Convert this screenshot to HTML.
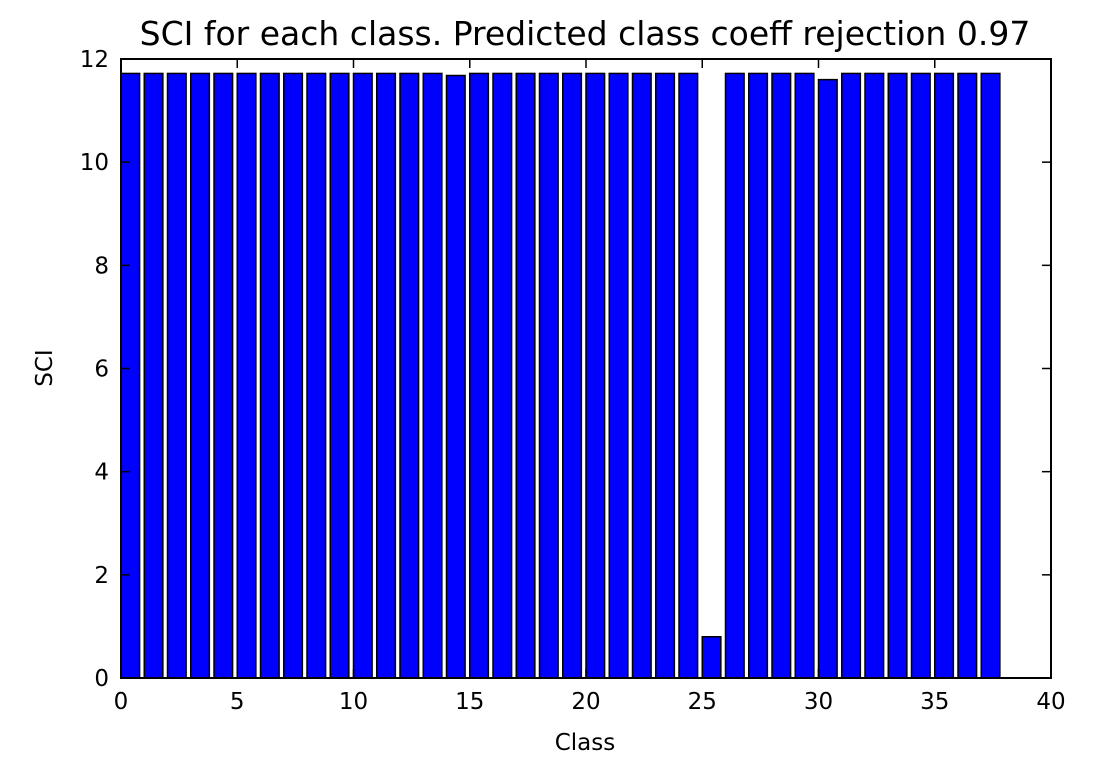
<!DOCTYPE html>
<html><head><meta charset="utf-8"><style>
body{margin:0;background:#fff;}
svg{display:block;font-family:"DejaVu Sans","Liberation Sans",sans-serif;}
</style></head><body>
<svg id="chart" width="1108" height="778" xmlns="http://www.w3.org/2000/svg">
<rect width="1108" height="778" fill="#fff"/>
<g id="bars"></g>
<g id="axes"></g>
<text x="585" y="45" text-anchor="middle" font-size="33" fill="#000">SCI for each class. Predicted class coeff rejection 0.97</text>
<text x="585" y="750" text-anchor="middle" font-size="23" fill="#000">Class</text>
<text x="52" y="368" text-anchor="middle" font-size="23" fill="#000" transform="rotate(-90 52 368)">SCI</text>
</svg>
<script>
const categories = [0,1,2,3,4,5,6,7,8,9,10,11,12,13,14,15,16,17,18,19,20,21,22,23,24,25,26,27,28,29,30,31,32,33,34,35,36,37];
const values = [11.72,11.72,11.72,11.72,11.72,11.72,11.72,11.72,11.72,11.72,11.72,11.72,11.72,11.72,11.68,11.72,11.72,11.72,11.72,11.72,11.72,11.72,11.72,11.72,11.72,0.8,11.72,11.72,11.72,11.72,11.6,11.72,11.72,11.72,11.72,11.72,11.72,11.72];
const xTicks = [0,5,10,15,20,25,30,35,40];
const yTicks = [0,2,4,6,8,10,12];
const L=121,R=1051,T=59,B=678;
const xs=v=>L+(v/40)*(R-L);
const ys=v=>B-(v/12)*(B-T);
const NS='http://www.w3.org/2000/svg';
const bars=document.getElementById('bars'),axes=document.getElementById('axes');
function mk(tag,attrs,parent){const e=document.createElementNS(NS,tag);for(const k in attrs)e.setAttribute(k,attrs[k]);parent.appendChild(e);return e;}
categories.forEach((c,i)=>{
  const r=mk('rect',{x:xs(c),y:ys(values[i]),width:xs(c+0.8)-xs(c),height:ys(0)-ys(values[i]),fill:'#0000ff',stroke:'#000','stroke-width':1.5},bars);
  
  
});
const frame=mk('rect',{x:L,y:T,width:R-L,height:B-T,fill:'none',stroke:'#000','stroke-width':2},axes);


xTicks.forEach(t=>{
  const x=xs(t);
  mk('line',{x1:x,x2:x,y1:B,y2:B-9,stroke:'#000','stroke-width':1.5},axes);
  mk('line',{x1:x,x2:x,y1:T,y2:T+9,stroke:'#000','stroke-width':1.5},axes);
  const tx=mk('text',{x:x,y:B+31,'text-anchor':'middle','font-size':23,fill:'#000'},axes);
  tx.textContent=t;
  
  
});
yTicks.forEach(t=>{
  const y=ys(t);
  mk('line',{x1:L,x2:L+9,y1:y,y2:y,stroke:'#000','stroke-width':1.5},axes);
  mk('line',{x1:R,x2:R-9,y1:y,y2:y,stroke:'#000','stroke-width':1.5},axes);
  const tx=mk('text',{x:L-12,y:y+8,'text-anchor':'end','font-size':23,fill:'#000'},axes);
  tx.textContent=t;
  
  
});
</script>
</body></html>
